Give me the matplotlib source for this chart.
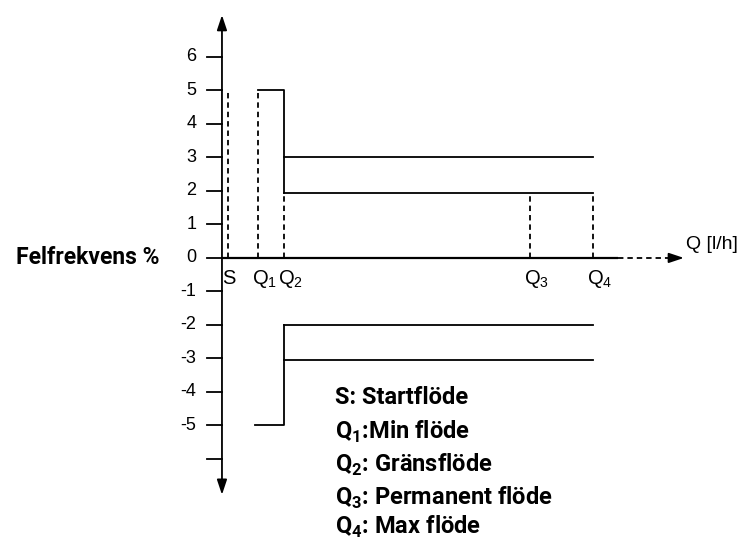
import matplotlib.pyplot as plt

plt.rcParams["mathtext.fontset"] = "custom"
plt.rcParams["mathtext.rm"] = "Liberation Sans"
plt.rcParams["mathtext.bf"] = "Roboto:bold"

# flow points along the Q axis (arbitrary units, 0 = vertical axis)
flow_names = ["S", "Q$_1$", "Q$_2$", "Q$_3$", "Q$_4$"]
flow_x = [0.2, 1.2, 2.07, 10.27, 12.37]
axis_end = 13.2
arrow_end = 15.4

# error limits in percent
upper_start = 5
upper_limits = [3, 1.95]
lower_start = -5
lower_limits = [-2, -3.05]
s_top = 5

y_ticks = [6, 5, 4, 3, 2, 1, 0, -1, -2, -3, -4, -5, -6]
y_labels = ["6", "5", "4", "3", "2", "1", "0", "-1", "-2", "-3", "-4", "-5", ""]

legend_lines = [
    "S: Startflöde",
    "Q$_{\\mathbf{1}}$:Min flöde",
    "Q$_{\\mathbf{2}}$: Gränsflöde",
    "Q$_{\\mathbf{3}}$: Permanent flöde",
    "Q$_{\\mathbf{4}}$: Max flöde",
]
legend_y = [-4.18, -5.19, -6.18, -7.16, -8.03]

fig = plt.figure(figsize=(7.37, 5.44), dpi=100)
ax = fig.add_axes([0, 0, 1, 1])
ax.set_xlim(-7.4, 17.17)
ax.set_ylim(-8.54, 7.70)
ax.axis("off")

lw = 1.3
S, Q1, Q2, Q3, Q4 = flow_x
dash = (0, (3, 2.2))

# vertical axis with arrows at both ends
ax.annotate("", xy=(0, 7.25), xytext=(0, -7.07),
            arrowprops=dict(arrowstyle="<|-|>,head_length=0.9,head_width=0.3",
                            color="black", lw=lw, shrinkA=0, shrinkB=0))

# horizontal axis: solid, then dotted with arrow
ax.plot([0, axis_end], [0, 0], color="black", lw=lw + 0.3, solid_capstyle="butt")
ax.plot([axis_end, arrow_end - 0.3], [0, 0], color="black", lw=lw, linestyle=dash)
ax.annotate("", xy=(arrow_end, 0), xytext=(arrow_end - 0.4, 0),
            arrowprops=dict(arrowstyle="-|>,head_length=0.9,head_width=0.3",
                            color="black", lw=lw, shrinkA=0, shrinkB=0))

# ticks and labels
for v, lab in zip(y_ticks, y_labels):
    ax.plot([-0.5, 0], [v, v], color="black", lw=lw)
    ax.text(-0.85, v, lab, ha="right", va="center", fontsize=13, family="Liberation Sans")

# dashed verticals
ax.plot([S, S], [0, s_top], color="black", lw=lw, linestyle=dash)
ax.plot([Q1, Q1], [0, upper_start], color="black", lw=lw, linestyle=dash)
ax.plot([Q2, Q2], [0, upper_limits[1]], color="black", lw=lw, linestyle=dash)
ax.plot([Q3, Q3], [0, upper_limits[1]], color="black", lw=lw, linestyle=dash)
ax.plot([Q4, Q4], [0, upper_limits[1]], color="black", lw=lw, linestyle=dash)

# upper limit lines
ax.plot([Q1, Q2, Q2], [upper_start, upper_start, upper_limits[1]], color="black", lw=lw)
for v in upper_limits:
    ax.plot([Q2, Q4], [v, v], color="black", lw=lw)

# lower limit lines
ax.plot([Q1 - 0.1, Q2, Q2], [lower_start, lower_start, lower_limits[0]], color="black", lw=lw)
for v in lower_limits:
    ax.plot([Q2, Q4], [v, v], color="black", lw=lw)

# flow labels
for name, x in zip(flow_names, flow_x):
    ax.text(x - 0.2, -0.62, name, ha="left", va="center", fontsize=14.5, family="Liberation Sans")

ax.text(15.47, 0.39, "Q [l/h]", ha="left", va="center", fontsize=14, family="Liberation Sans")
ax.text(-2.07, 0, "Felfrekvens %", ha="right", va="center", fontsize=16.5,
        fontweight="bold", family="Roboto")

for line, y in zip(legend_lines, legend_y):
    ax.text(3.77, y, line, ha="left", va="center", fontsize=17,
            fontweight="bold", family="Roboto")

fig.savefig("out.png", dpi=100)
